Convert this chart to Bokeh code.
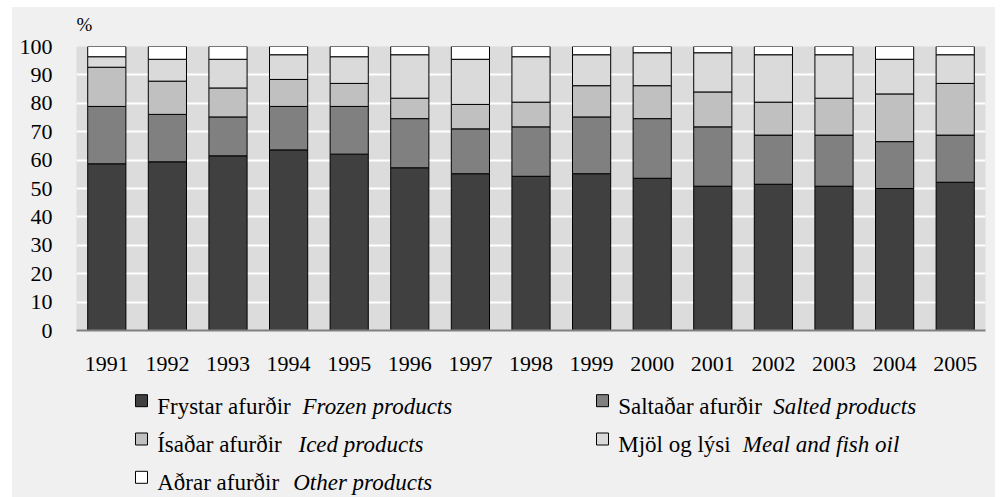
from bokeh.plotting import figure
from bokeh.models import FactorRange, FixedTicker, Range1d
from bokeh.layouts import column
from bokeh.core.properties import value
from bokeh.embed import file_html
from bokeh.resources import INLINE

years = [str(y) for y in range(1991, 2006)]
frozen = [58.7, 59.4, 61.5, 63.6, 62.1, 57.3, 55.2, 54.3, 55.2, 53.6, 50.8, 51.5, 50.8, 50.0, 52.2]
salted = [20.2, 16.7, 13.7, 15.3, 16.8, 17.3, 15.8, 17.4, 20.0, 21.0, 20.9, 17.3, 18.0, 16.5, 16.6]
iced = [13.8, 11.7, 10.2, 9.5, 8.1, 7.2, 8.6, 8.7, 11.0, 11.6, 12.3, 11.6, 13.0, 16.8, 18.2]
meal = [3.7, 7.7, 10.1, 8.7, 9.4, 15.3, 15.9, 16.0, 10.9, 11.6, 13.8, 16.7, 15.3, 12.2, 10.1]
other = [3.6, 4.5, 4.5, 2.9, 3.6, 2.9, 4.5, 3.6, 2.9, 2.2, 2.2, 2.9, 2.9, 4.5, 2.9]

series = ["frozen", "salted", "iced", "meal", "other"]
labels_is = ["Frystar afurðir", "Saltaðar afurðir", "Ísaðar afurðir", "Mjöl og lýsi", "Aðrar afurðir"]
labels_en = ["Frozen products", "Salted products", "Iced products", "Meal and fish oil", "Other products"]
y_ticks = list(range(0, 101, 10))
unit_label = ["%"]

colors = ["#404040", "#808080", "#c0c0c0", "#dadada", "#ffffff"]
FONT = "Liberation Serif"
BG = "#f0f0f0"

data = dict(years=years, frozen=frozen, salted=salted, iced=iced, meal=meal, other=other)


def strip(height, top):
    """Plain background strip whose coordinates are page pixels."""
    f = figure(width=983, height=height, x_range=Range1d(76, 985),
               y_range=Range1d(top + height, top), output_backend="svg",
               toolbar_location=None, x_axis_type=None, y_axis_type=None,
               min_border_left=64, min_border_right=10, min_border_top=0, min_border_bottom=0)
    f.background_fill_color = BG
    f.border_fill_color = BG
    f.outline_line_color = None
    f.grid.grid_line_color = None
    return f


# ---------------- unit label strip ----------------
TOP_H = 26
head = strip(TOP_H, 7)
head.text(x=[76], y=[24], text=unit_label, text_font=value(FONT), text_font_size="19px",
          text_baseline="alphabetic", text_color="black")

# ---------------- main chart ----------------
p = figure(x_range=FactorRange(factors=years, range_padding=0), y_range=(0, 100),
           width=983, height=352, output_backend="svg", toolbar_location=None,
           min_border_left=64, min_border_right=10, min_border_top=13, min_border_bottom=55)
p.background_fill_color = "#dcdcdc"
p.border_fill_color = BG
p.outline_line_color = None

p.vbar_stack(series, x="years", width=0.63, source=data, fill_color=colors,
             line_color="black", line_width=1)

p.xgrid.grid_line_color = None
p.ygrid.grid_line_color = "white"
p.ygrid.grid_line_width = 2
p.yaxis.ticker = FixedTicker(ticks=y_ticks)
for ax in (p.xaxis[0], p.yaxis[0]):
    ax.major_tick_line_color = None
    ax.minor_tick_line_color = None
    ax.major_label_text_font = FONT
    ax.major_label_text_font_size = "22px"
    ax.major_label_text_color = "black"
p.yaxis.axis_line_color = None
p.yaxis.major_label_standoff = 18
p.xaxis.axis_line_color = "#808080"
p.xaxis.axis_line_width = 2
p.xaxis.major_label_standoff = 20

# ---------------- legend strip ----------------
leg = strip(112, 391)

col_sq_x = [135, 596]
row_base = [411.7, 450, 488.3]
en_x = [302, 772.7, 298, 742.3, 292.7]
sq_l, sq_r, sq_t, sq_b, tx, ty = [], [], [], [], [], []
for i in range(len(series)):
    r, c = divmod(i, 2)
    sq_l.append(col_sq_x[c])
    sq_r.append(col_sq_x[c] + 12)
    sq_t.append(row_base[r] - 11.5)
    sq_b.append(row_base[r] + 0.5)
    tx.append(col_sq_x[c] + 21.7)
    ty.append(row_base[r])

leg.quad(left=sq_l, right=sq_r, top=sq_t, bottom=sq_b, fill_color=colors,
         line_color="black", line_width=1)
leg.text(x=tx, y=ty, text=labels_is, text_font=value(FONT), text_font_size="23px",
         text_baseline="alphabetic", text_color="black")
leg.text(x=en_x, y=ty, text=labels_en, text_font=value(FONT), text_font_size="23px",
         text_font_style="italic", text_baseline="alphabetic", text_color="black")

layout = column(head, p, leg, spacing=0)
layout.margin = (7, 0, 0, 12)
layout.styles = {"background-color": BG}

open("out.html", "w").write(file_html(layout, INLINE))
